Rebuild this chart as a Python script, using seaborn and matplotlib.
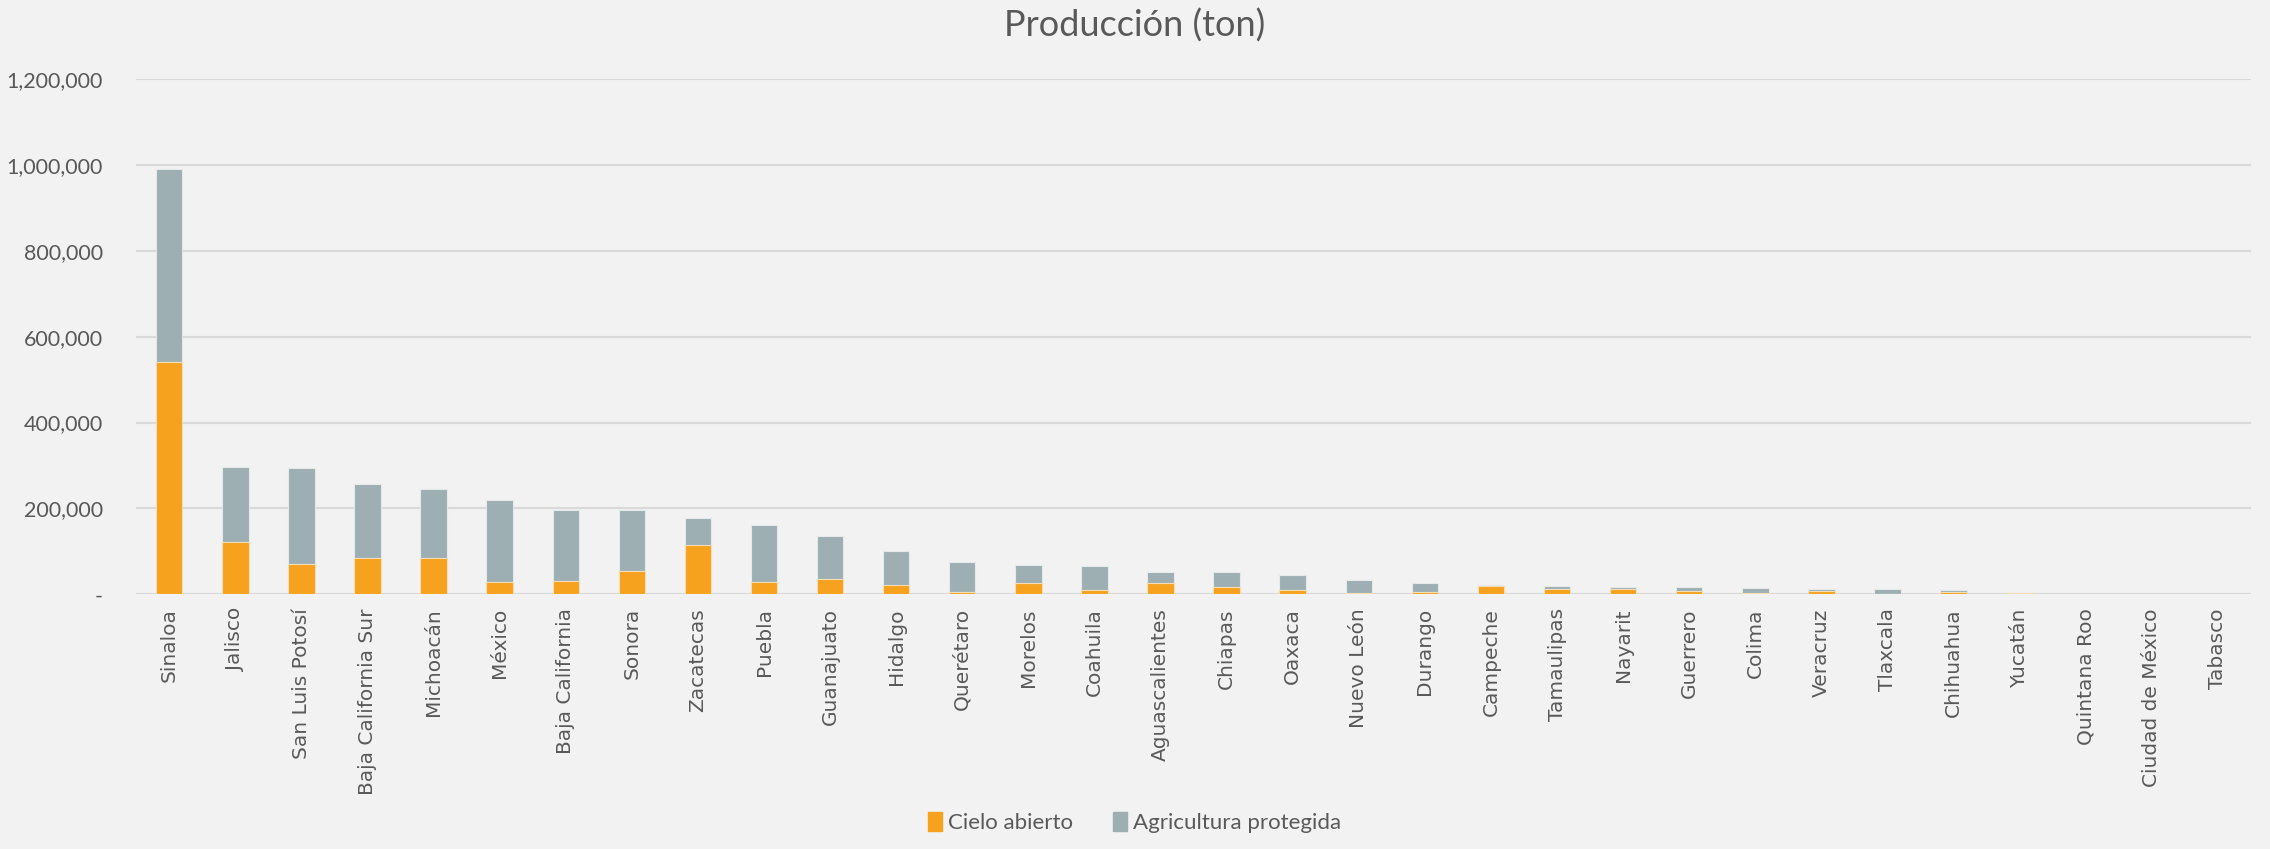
import pandas as pd
import matplotlib.pyplot as plt
import seaborn as sns
from matplotlib.patches import Patch
from matplotlib.ticker import FuncFormatter

# Producción por entidad (ton)
estados = [
    'Sinaloa', 'Jalisco', 'San Luis Potosí', 'Baja California Sur', 'Michoacán',
    'México', 'Baja California', 'Sonora', 'Zacatecas', 'Puebla', 'Guanajuato',
    'Hidalgo', 'Querétaro', 'Morelos', 'Coahuila', 'Aguascalientes', 'Chiapas',
    'Oaxaca', 'Nuevo León', 'Durango', 'Campeche', 'Tamaulipas', 'Nayarit',
    'Guerrero', 'Colima', 'Veracruz', 'Tlaxcala', 'Chihuahua', 'Yucatán',
    'Quintana Roo', 'Ciudad de México', 'Tabasco'
]
cielo_abierto = [
    542000, 122500, 70000, 85600, 85600, 27600, 30400, 54300, 114200, 29500,
    36400, 20900, 4600, 27100, 10000, 27100, 17800, 9300, 3900, 4600, 19300,
    13200, 13200, 7750, 3900, 8000, 1000, 4600, 2500, 1000, 300, 200
]
agricultura_protegida = [
    448800, 173100, 223700, 170400, 160300, 191400, 165700, 141800, 62600, 132600,
    100500, 78900, 69700, 40200, 55000, 24700, 33300, 36300, 28600, 21700, 1600,
    5400, 3100, 8550, 10100, 3600, 10600, 4700, 600, 500, 300, 0
]
yticks = [0, 200000, 400000, 600000, 800000, 1000000, 1200000]

df = pd.DataFrame({'Estado': estados, 'Cielo abierto': cielo_abierto,
                   'Agricultura protegida': agricultura_protegida})
df['Total'] = df['Cielo abierto'] + df['Agricultura protegida']

naranja = '#F6A21E'
gris = '#9EAFB4'
fondo = '#F2F2F2'
texto = '#595959'

sns.set_style('white')
plt.rcParams['font.family'] = ['DejaVu Sans']

fig, ax = plt.subplots(figsize=(22.7, 8.49), dpi=100)
fig.patch.set_facecolor(fondo)
ax.set_facecolor(fondo)
fig.subplots_adjust(left=0.06, right=0.9916, top=0.907, bottom=0.30)

# Barras apiladas: total en gris, cielo abierto encima desde cero
sns.barplot(x='Estado', y='Total', data=df, color=gris, width=0.4,
            edgecolor='#E6E9EA', linewidth=0.8, ax=ax, saturation=1)
sns.barplot(x='Estado', y='Cielo abierto', data=df, color=naranja, width=0.4,
            edgecolor='#F5DDB5', linewidth=0.8, ax=ax, saturation=1)

ax.set_ylim(0, 1200000)
ax.set_xlim(-0.5, len(estados) - 0.5)
ax.set_yticks(yticks)
ax.yaxis.set_major_formatter(FuncFormatter(lambda v, p: '-' if v == 0 else f'{v:,.0f}'))
ax.yaxis.grid(True, color='#D9D9D9', linewidth=1.5)
ax.set_axisbelow(True)
for s in ax.spines.values():
    s.set_visible(False)

ax.tick_params(axis='y', length=0, pad=24, labelsize=15.5, labelcolor=texto,
               labelfontfamily='Lato')
ax.tick_params(axis='x', length=0, pad=10, labelsize=14.5, labelcolor=texto)
plt.setp(ax.get_xticklabels(), rotation=90)
ax.set_xlabel('')
ax.set_ylabel('')

fig.suptitle('Producción (ton)', fontsize=26, color=texto, y=0.99,
             family='Lato')

handles = [Patch(color=naranja, label='Cielo abierto'),
           Patch(color=gris, label='Agricultura protegida')]
fig.legend(handles=handles, loc='lower center', ncol=2, frameon=False,
           bbox_to_anchor=(0.5, -0.005), handlelength=0.6,
           handleheight=0.9, handletextpad=0.3, columnspacing=1.8,
           labelcolor=texto, prop={'family': 'Lato', 'size': 16})

plt.savefig('out.png', dpi=100, facecolor=fondo)
